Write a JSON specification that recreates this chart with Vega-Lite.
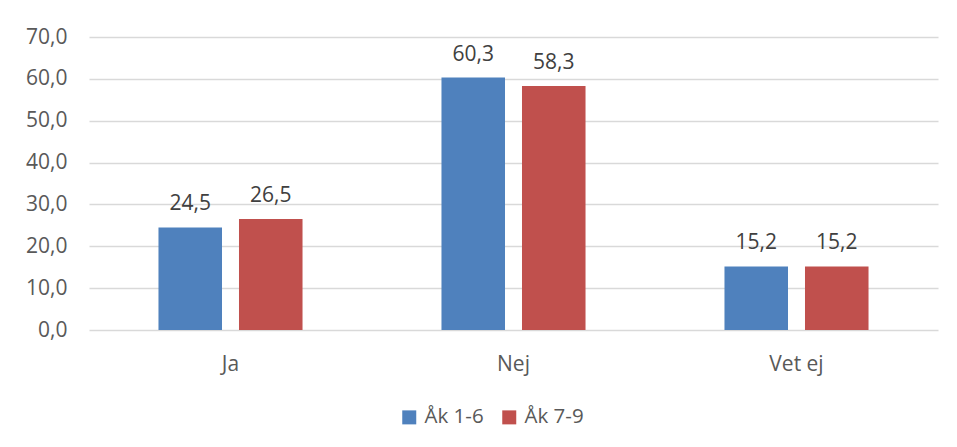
{
  "$schema": "https://vega.github.io/schema/vega-lite/v6.json",
  "autosize": {"type": "none"},
  "width": 849,
  "height": 293,
  "padding": {"left": 89, "top": 37, "right": 19, "bottom": 117},
  "background": "white",
  "config": {
    "locale": {"number": {"decimal": ",", "thousands": " ", "grouping": [3], "currency": ["", " kr"]}},
    "view": {"stroke": null},
    "font": "Open Sans"
  },
  "data": {
    "values": [
      {"kategori": "Ja", "grupp": "Åk 1-6", "andel": 24.5},
      {"kategori": "Ja", "grupp": "Åk 7-9", "andel": 26.5},
      {"kategori": "Nej", "grupp": "Åk 1-6", "andel": 60.3},
      {"kategori": "Nej", "grupp": "Åk 7-9", "andel": 58.3},
      {"kategori": "Vet ej", "grupp": "Åk 1-6", "andel": 15.2},
      {"kategori": "Vet ej", "grupp": "Åk 7-9", "andel": 15.2}
    ]
  },
  "encoding": {
    "x": {
      "field": "kategori", "type": "nominal", "sort": ["Ja", "Nej", "Vet ej"],
      "scale": {"paddingInner": 0.491, "paddingOuter": 0.2455},
      "axis": {"title": null, "labelAngle": 0, "ticks": false, "domain": false, "labelPadding": 23, "labelFontSize": 21, "labelColor": "#595959", "labelFont": "Open Sans"}
    },
    "xOffset": {"field": "grupp", "type": "nominal", "scale": {"paddingInner": 0.211, "paddingOuter": 0}},
    "y": {
      "field": "andel", "type": "quantitative",
      "scale": {"domain": [0, 70], "nice": false},
      "axis": {"title": null, "values": [0, 10, 20, 30, 40, 50, 60, 70], "format": ".1f", "ticks": false, "domain": false, "labelPadding": 22, "labelFontSize": 21, "labelColor": "#595959", "labelFont": "Open Sans", "gridColor": "#D9D9D9", "gridWidth": 1.3}
    }
  },
  "layer": [
    {
      "mark": {"type": "bar"},
      "encoding": {
        "color": {
          "field": "grupp", "type": "nominal",
          "scale": {"domain": ["Åk 1-6", "Åk 7-9"], "range": ["#4F81BD", "#C0504D"]},
          "legend": {"title": null, "orient": "none", "legendX": 310, "legendY": 370, "direction": "horizontal", "symbolType": "square", "symbolSize": 196, "symbolStrokeWidth": 0, "labelFontSize": 20.5, "labelColor": "#595959", "labelFont": "Open Sans", "labelOffset": 5, "columnPadding": 15}
        }
      }
    },
    {
      "mark": {"type": "text", "baseline": "alphabetic", "dy": -17, "fontSize": 21, "color": "#404040", "font": "Open Sans"},
      "encoding": {
        "text": {"field": "andel", "type": "quantitative", "format": ".1f"}
      }
    }
  ]
}
